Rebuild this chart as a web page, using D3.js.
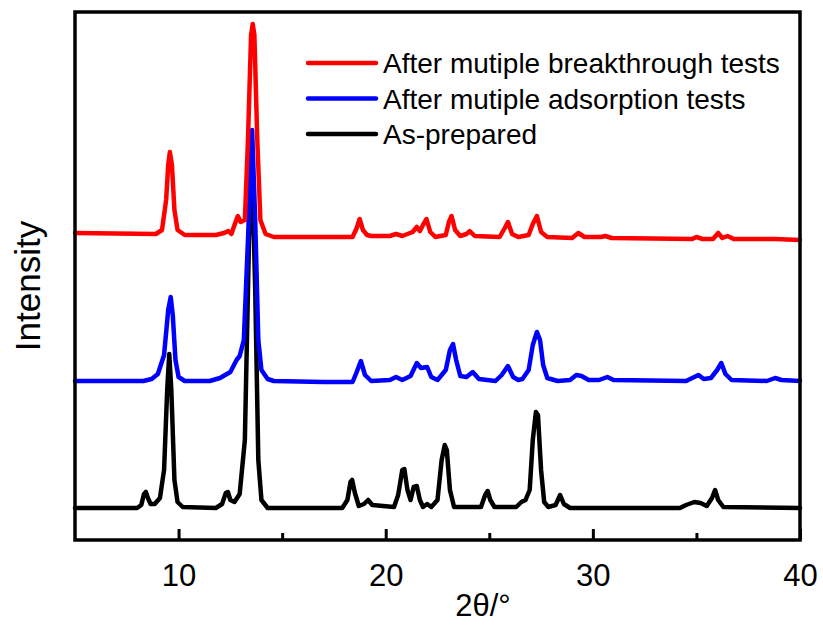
<!DOCTYPE html>
<html lang="en">
<head>
<meta charset="utf-8">
<title>XRD patterns</title>
<style>
    body { margin: 0; background: #fff; }
    svg { display: block; }
    .tick text { font-family: "Liberation Sans", Arial, sans-serif; font-size: 31px; fill: #000; }
    .legend text { font-family: "Liberation Sans", Arial, sans-serif; font-size: 28px; fill: #000; }
    .axisTitle { font-family: "Liberation Sans", Arial, sans-serif; font-size: 31px; fill: #000; }
    .pattern { fill: none; stroke-width: 4.5px; stroke-linejoin: round; stroke-linecap: round; }
</style>
</head>
<body>
<script src="https://cdnjs.cloudflare.com/ajax/libs/d3/7.8.5/d3.min.js"></script>
<script>
// series: [2theta, intensity (a.u.)]
var asPrepared = [
    [5, 32], [8.0, 32], [8.2, 35], [8.33, 46], [8.42, 48], [8.52, 42], [8.65, 36], [8.85, 36],
    [9.1, 42], [9.3, 70], [9.45, 150], [9.55, 186], [9.65, 150], [9.8, 60], [9.95, 38], [10.2, 33],
    [11.8, 32], [12.1, 36], [12.28, 47], [12.38, 48], [12.5, 40], [12.7, 38], [12.95, 46],
    [13.2, 100], [13.4, 300], [13.55, 375], [13.7, 250], [13.85, 80], [14.0, 40], [14.3, 32],
    [17.9, 32], [18.15, 40], [18.3, 58], [18.38, 60], [18.5, 48], [18.7, 34], [18.95, 36],
    [19.15, 40], [19.35, 35], [20.4, 33], [20.6, 45], [20.8, 70], [20.9, 71], [21.05, 50],
    [21.2, 40], [21.35, 53], [21.5, 54], [21.65, 40], [21.8, 33], [22.0, 36], [22.2, 33],
    [22.5, 40], [22.7, 80], [22.85, 95], [22.95, 90], [23.1, 50], [23.3, 33], [24.6, 33],
    [24.8, 45], [24.92, 49], [25.05, 40], [25.25, 33], [26.3, 33], [26.55, 38], [26.75, 40],
    [26.95, 50], [27.1, 100], [27.25, 128], [27.35, 125], [27.5, 70], [27.65, 38], [27.85, 33],
    [28.2, 35], [28.42, 45], [28.6, 36], [28.9, 32], [34.2, 32], [34.5, 35], [34.9, 38],
    [35.2, 37], [35.5, 34], [35.75, 42], [35.9, 50], [36.05, 40], [36.3, 33], [40, 32]
];

var afterAdsorption = [
    [5, 159], [8.3, 159], [8.7, 161], [9.0, 166], [9.3, 185], [9.5, 230], [9.62, 243], [9.72, 225],
    [9.85, 180], [10.0, 163], [10.3, 159], [11.5, 159], [12.0, 162], [12.5, 168], [12.8, 180],
    [12.95, 184], [13.15, 200], [13.35, 300], [13.55, 410], [13.7, 320], [13.85, 200], [14.0, 170],
    [14.3, 161], [14.6, 159], [17, 158], [18.4, 158], [18.6, 168], [18.8, 179], [19.0, 165],
    [19.3, 159], [20.2, 160], [20.5, 163], [20.8, 160], [21.2, 164], [21.5, 177], [21.7, 172],
    [22.0, 173], [22.2, 163], [22.5, 160], [22.9, 170], [23.1, 190], [23.25, 196], [23.4, 180],
    [23.6, 164], [23.9, 163], [24.2, 168], [24.5, 161], [25.3, 159], [25.6, 165], [25.9, 174],
    [26.15, 163], [26.4, 160], [26.6, 161], [26.9, 170], [27.1, 195], [27.3, 208], [27.45, 200],
    [27.6, 175], [27.8, 162], [28.3, 159], [28.9, 160], [29.2, 165], [29.45, 164], [29.8, 160],
    [30.3, 160], [30.7, 163], [31.0, 160], [34.5, 159], [34.9, 163], [35.1, 165], [35.35, 161],
    [35.7, 162], [36.0, 170], [36.2, 177], [36.4, 166], [36.7, 160], [38.4, 159], [38.8, 162],
    [39.1, 160], [40, 159]
];

var afterBreakthrough = [
    [5, 307], [8.9, 306], [9.2, 310], [9.4, 340], [9.5, 375], [9.58, 388], [9.68, 375], [9.8, 330],
    [9.95, 310], [10.3, 305], [11.8, 305], [12.2, 307], [12.4, 309], [12.55, 306], [12.7, 315],
    [12.86, 324], [13.0, 318], [13.2, 320], [13.35, 400], [13.5, 505], [13.58, 516], [13.66, 505],
    [13.8, 400], [13.95, 320], [14.2, 306], [14.6, 303], [18.4, 303], [18.6, 312], [18.74, 321],
    [18.9, 310], [19.1, 305], [19.3, 304], [20.2, 304], [20.5, 306], [20.8, 304], [21.3, 308],
    [21.5, 313], [21.65, 309], [21.8, 315], [21.97, 321], [22.15, 308], [22.4, 303], [22.9, 305],
    [23.05, 318], [23.18, 324], [23.35, 310], [23.6, 304], [23.9, 306], [24.05, 309], [24.3, 304],
    [25.5, 303], [25.75, 312], [25.9, 318], [26.1, 306], [26.4, 303], [26.9, 305], [27.1, 316],
    [27.3, 324], [27.5, 308], [27.8, 303], [29.0, 302], [29.3, 307], [29.6, 303], [30.4, 303],
    [30.6, 304], [30.9, 302], [34.8, 301], [35.0, 303], [35.3, 301], [35.8, 301], [36.05, 307],
    [36.25, 302], [36.5, 304], [36.8, 301], [38.5, 301], [38.8, 301], [40, 300]
];

var seriesNames = ["After mutiple breakthrough tests", "After mutiple adsorption tests", "As-prepared"];
var seriesColors = ["#ff0000", "#0000ff", "#000000"];
var majorTicks = [10, 20, 30, 40];
var minorTicks = [15, 25, 35];

var margin = {top: 12, right: 23, bottom: 92, left: 75},
    width = 823 - margin.left - margin.right,
    height = 632 - margin.top - margin.bottom;

var svg = d3.select("body").append("svg")
    .attr("width", 823)
    .attr("height", 632);

var g = svg.append("g")
    .attr("transform", "translate(" + margin.left + "," + margin.top + ")");

var x = d3.scaleLinear().domain([5, 40]).range([0, width]);
var y = d3.scaleLinear().domain([0, 528]).range([height, 0]);

var line = d3.line()
    .x(function(d) { return x(d[0]); })
    .y(function(d) { return y(d[1]); });

// draw black first, red on top
var patterns = [afterBreakthrough, afterAdsorption, asPrepared];
for (var i = patterns.length - 1; i >= 0; i--) {
    g.append("path")
        .datum(patterns[i])
        .attr("class", "pattern")
        .attr("stroke", seriesColors[i])
        .attr("d", line);
}

// axes
var xAxis = g.append("g")
    .attr("transform", "translate(0," + height + ")")
    .call(d3.axisBottom(x).tickValues(majorTicks).tickSizeInner(-11).tickSizeOuter(0).tickPadding(24));
xAxis.select(".domain").remove();
xAxis.selectAll(".tick line").attr("stroke", "#000").attr("stroke-width", 3);

var xMinor = g.append("g")
    .attr("transform", "translate(0," + height + ")")
    .call(d3.axisBottom(x).tickValues(minorTicks).tickSizeInner(-7).tickSizeOuter(0).tickFormat(""));
xMinor.select(".domain").remove();
xMinor.selectAll(".tick line").attr("stroke", "#000").attr("stroke-width", 3);

// frame
g.append("rect")
    .attr("x", 0).attr("y", 0)
    .attr("width", width).attr("height", height)
    .attr("fill", "none")
    .attr("stroke", "#000")
    .attr("stroke-width", 3.5);

// axis titles
svg.append("text")
    .attr("class", "axisTitle")
    .attr("x", 483)
    .attr("y", 616)
    .attr("text-anchor", "middle")
    .text("2\u03b8/\u00b0");

svg.append("text")
    .attr("class", "axisTitle")
    .attr("transform", "translate(40," + (margin.top + height / 2 + 10) + ") rotate(-90)")
    .attr("text-anchor", "middle")
    .style("font-size", "35px")
    .text("Intensity");

// legend
var legend = g.append("g").attr("class", "legend")
    .attr("transform", "translate(" + (308 - margin.left) + "," + (63 - margin.top) + ")");

var items = legend.selectAll("g")
    .data(seriesNames)
    .enter().append("g")
    .attr("transform", function(d, i) { return "translate(0," + i * 35.5 + ")"; });

items.append("line")
    .attr("x1", 0).attr("x2", 68)
    .attr("y1", 0).attr("y2", 0)
    .attr("stroke", function(d, i) { return seriesColors[i]; })
    .attr("stroke-width", 4.5)
    .attr("stroke-linecap", "round");

items.append("text")
    .attr("x", 75)
    .attr("y", 10)
    .text(function(d) { return d; });
</script>
</body>
</html>
